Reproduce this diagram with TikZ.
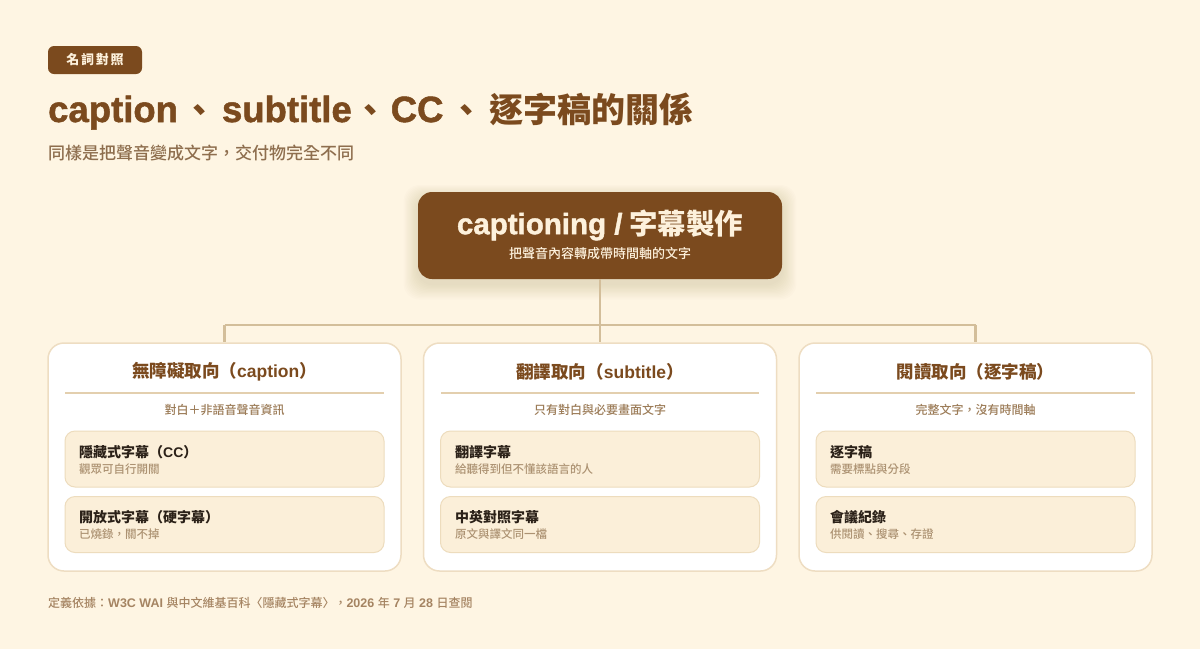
\documentclass[tikz,border=0pt]{standalone}
\usepackage{fontspec}
\setmainfont{Noto Sans CJK TC}
\newfontfamily\heavy{Noto Sans CJK TC Black}
\newfontfamily\med{Noto Sans CJK TC Medium}
\newfontfamily\latf{Liberation Sans}
\newfontfamily\latheavy{Liberation Sans}[UprightFeatures={FakeBold=1.4}, BoldFeatures={FakeBold=1.4}]
\newfontfamily\tagf{Noto Sans CJK TC}[LetterSpace=14]
\newcommand\LB[1]{{\latf\bfseries #1}}
\newcommand\LH[1]{{\latheavy\bfseries #1}}
\definecolor{bg}{HTML}{FEF5E3}
\definecolor{brownc}{HTML}{7B4A1E}
\definecolor{creamc}{HTML}{FDF1DC}
\definecolor{linec}{HTML}{D3BE9A}
\definecolor{cardborder}{HTML}{EEDDC2}
\definecolor{mutedc}{HTML}{8E6E4E}
\definecolor{descc}{HTML}{9C7C58}
\definecolor{itemfill}{HTML}{FBEFD9}
\definecolor{itemborder}{HTML}{EDDCBD}
\definecolor{darkc}{HTML}{2B2118}
\definecolor{itemsub}{HTML}{AC9272}
\definecolor{sepc}{HTML}{E3CFAE}
\definecolor{footc}{HTML}{A58462}
\tikzset{
  tagbox/.style={fill=brownc, rounded corners=6pt, minimum width=94pt, minimum height=28pt, inner sep=0, text=creamc, font=\fontsize{13}{15}\selectfont\tagf\bfseries},
  rootbox/.style={fill=brownc, rounded corners=14pt, minimum width=364pt, minimum height=87pt, inner sep=0},
  card/.style={fill=white, draw=cardborder, line width=1.5pt, rounded corners=16pt, minimum width=353pt, minimum height=228pt, inner sep=0},
  item/.style={fill=itemfill, draw=itemborder, line width=1pt, rounded corners=10pt, minimum width=319pt, minimum height=56pt, inner sep=0},
  cardhead/.style={font=\fontsize{17.5}{20}\selectfont\bfseries, text=brownc, inner sep=0},
  carddesc/.style={font=\fontsize{12}{14}\selectfont\med, text=descc, inner sep=0},
  itemtitle/.style={anchor=west, font=\fontsize{14}{16}\selectfont\bfseries, text=darkc, inner sep=0},
  itemsubt/.style={anchor=west, font=\fontsize{11.5}{14}\selectfont\med, text=itemsub, inner sep=0},
  conn/.style={draw=linec, line width=2.5pt},
  sep/.style={draw=sepc, line width=1.5pt}
}
\begin{document}
\begin{tikzpicture}[x=1pt,y=-1pt]
\fill[bg] (0,0) rectangle (1200,649);
\useasboundingbox (0,0) rectangle (1200,649);

\node[tagbox] (tag) at (95,60) {名詞對照};
\node[anchor=base west, inner sep=0, text=brownc, font=\fontsize{34}{40}\selectfont\heavy] (title) at (48,122)
  {{\fontsize{36.5}{40}\selectfont\LH{caption}}\hspace{5pt}、\hspace{5pt}{\fontsize{36.5}{40}\selectfont\LH{subtitle}}\hspace{2pt}、\hspace{3pt}{\fontsize{36.5}{40}\selectfont\LH{CC}}\hspace{6pt}、\hspace{6pt}逐字稿的關係};
\node[anchor=west, inner sep=0, text=mutedc, font=\fontsize{17}{19}\selectfont\med] (subtitle) at (48,153) {同樣是把聲音變成文字，交付物完全不同};

% soft shadow of the root box
\foreach \s in {1,...,12} {
  \fill[brownc, opacity=0.011, rounded corners=16pt] (418-\s*1.2, 197-\s*1.0) rectangle (782+\s*1.2, 284+\s*1.3);
}

\coordinate (hub) at (600,325);
\coordinate (hl) at (224.5,325);
\coordinate (hr) at (975.5,325);

\node[rootbox] (root) at (600,235.5) {};
\node[inner sep=0, text=creamc, font=\fontsize{28.5}{30}\selectfont\heavy] (roott) at (600,225)
  {{\fontsize{29.5}{30}\selectfont\LH{captioning /}} 字幕製作};
\node[inner sep=0, text=creamc, font=\fontsize{13}{15}\selectfont\med] (roots) at (600,254) {把聲音內容轉成帶時間軸的文字};

% cards
\node[card] (c1) at (224.5,457) {};
\node[card] (c2) at (600,457) {};
\node[card] (c3) at (975.5,457) {};

\draw[conn] (root.south) -- (hub);
\draw[conn] (hl) -- (hr);
\draw[conn] (hl) -- (c1.north);
\draw[conn] (hub) -- (c2.north);
\draw[conn] (hr) -- (c3.north);

% card 1
\node[cardhead] (h1) at (224.5,372) {無障礙取向（\LB{caption}）};
\draw[sep] (65,393) -- (384,393);
\node[carddesc] (d1) at (224.5,410) {對白＋非語音聲音資訊};
\node[item] (i11) at (224.5,459) {};
\node[itemtitle] (i11t) at (79,452) {隱藏式字幕（\LB{CC}）};
\node[itemsubt] (i11s) at (79,469) {觀眾可自行開關};
\node[item] (i12) at (224.5,524.5) {};
\node[itemtitle] (i12t) at (79,517) {開放式字幕（硬字幕）};
\node[itemsubt] (i12s) at (79,534) {已燒錄，關不掉};

% card 2
\node[cardhead] (h2) at (600,372) {翻譯取向（\LB{subtitle}）};
\draw[sep] (441,393) -- (759,393);
\node[carddesc] (d2) at (600,410) {只有對白與必要畫面文字};
\node[item] (i21) at (600,459) {};
\node[itemtitle] (i21t) at (455,452) {翻譯字幕};
\node[itemsubt] (i21s) at (455,469) {給聽得到但不懂該語言的人};
\node[item] (i22) at (600,524.5) {};
\node[itemtitle] (i22t) at (455,517) {中英對照字幕};
\node[itemsubt] (i22s) at (455,534) {原文與譯文同一檔};

% card 3
\node[cardhead] (h3) at (975.5,372) {閱讀取向（逐字稿）};
\draw[sep] (816,393) -- (1135,393);
\node[carddesc] (d3) at (975.5,410) {完整文字，沒有時間軸};
\node[item] (i31) at (975.5,459) {};
\node[itemtitle] (i31t) at (830,452) {逐字稿};
\node[itemsubt] (i31s) at (830,469) {需要標點與分段};
\node[item] (i32) at (975.5,524.5) {};
\node[itemtitle] (i32t) at (830,517) {會議紀錄};
\node[itemsubt] (i32s) at (830,534) {供閱讀、搜尋、存證};

\node[anchor=west, inner sep=0, text=footc, font=\fontsize{12}{14}\selectfont\med] (foot) at (48,603)
  {定義依據：{\fontsize{12.5}{14}\selectfont\LB{W3C WAI }}與中文維基百科〈隱藏式字幕〉，{\fontsize{12.5}{14}\selectfont\LB{2026 }}年{\fontsize{12.5}{14}\selectfont\LB{\ 7 }}月{\fontsize{12.5}{14}\selectfont\LB{\ 28 }}日查閱};
\end{tikzpicture}
\end{document}
